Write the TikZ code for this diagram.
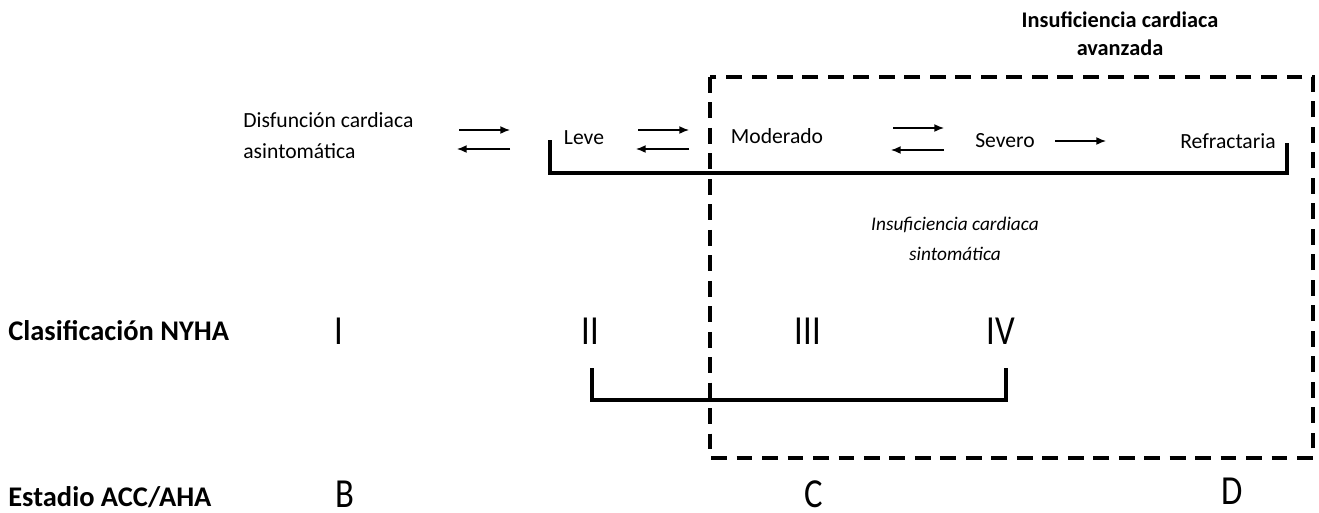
\documentclass[tikz,border=0pt]{standalone}
\usepackage{fontspec}
\setmainfont{Carlito}
\newfontfamily\narrowfont[FakeStretch=0.84]{Carlito}
\usetikzlibrary{arrows.meta,positioning}
\tikzset{
  txt/.style={font=\fontsize{12.3}{17.6}\selectfont,inner sep=0pt,align=left},
  itx/.style={font=\itshape\fontsize{11}{17}\selectfont,inner sep=0pt,align=center},
  hdr/.style={font=\bfseries\fontsize{12.7}{16}\selectfont,inner sep=0pt,align=center},
  rowlbl/.style={font=\bfseries\fontsize{16.2}{19}\selectfont,inner sep=0pt,anchor=west},
  cls/.style={font=\narrowfont\fontsize{23.5}{26}\selectfont,inner sep=0pt},
  arr/.style={-{Latex[length=5.5pt,width=4.5pt]},line width=0.8pt},
  brk/.style={line width=2.2pt},
  zone/.style={line width=2.3pt,dash pattern=on 9pt off 5.5pt},
}
\begin{document}
\begin{tikzpicture}[x=0.02cm,y=-0.02cm]
  \useasboundingbox (0,0) rectangle (1319,512);
  % upper row
  \node[txt, anchor=west] (dis) at (243,136) {Disfunción cardiaca\\asintomática};
  \node[txt] (leve) at (584,138) {Leve};
  \node[txt] (mod) at (777,136) {Moderado};
  \node[txt] (sev) at (1005,141) {Severo};
  \node[txt] (ref) at (1228,141) {Refractaria};
  \node[hdr] (adv) at (1120,34) {Insuficiencia cardiaca\\avanzada};
  \node[itx] (sint) at (955,239) {Insuficiencia cardiaca\\sintomática};

  \coordinate (a1) at (459,130); \coordinate (b1) at (510,130);
  \coordinate (c1) at (510,149); \coordinate (d1) at (457,149);
  \coordinate (a2) at (638,130); \coordinate (b2) at (689,130);
  \coordinate (c2) at (689,149); \coordinate (d2) at (636,149);
  \coordinate (a3) at (893,128); \coordinate (b3) at (944,128);
  \coordinate (c3) at (944,150); \coordinate (d3) at (891,150);
  \coordinate (a4) at (1055,141); \coordinate (b4) at (1106,141);
  \draw[arr] (a1) -- (b1);
  \draw[arr] (c1) -- (d1);
  \draw[arr] (a2) -- (b2);
  \draw[arr] (c2) -- (d2);
  \draw[arr] (a3) -- (b3);
  \draw[arr] (c3) -- (d3);
  \draw[arr] (a4) -- (b4);

  % brackets
  \coordinate (s1) at (550,140); \coordinate (e1) at (1287,143);
  \draw[brk] (s1) -- (550,173) -- (1287,173) -- (e1);
  \coordinate (s2) at (592,368); \coordinate (e2) at (1006,368);
  \draw[brk] (s2) -- (592,400) -- (1006,400) -- (e2);

  % advanced zone
  \coordinate (z1) at (710,77); \coordinate (z2) at (1313,458);
  \draw[zone] (z1) rectangle (z2);

  % NYHA
  \node[rowlbl] (nyha) at (8,331) {Clasificación NYHA};
  \node[cls] (n1) at (339,331) {I};
  \node[cls] (n2) at (590,331) {II};
  \node[cls] (n3) at (808,331) {III};
  \node[cls] (n4) at (1001,331) {IV};

  % ACC/AHA
  \node[rowlbl] (acc) at (8,497) {Estadio ACC/AHA};
  \node[cls] (sb) at (345,494) {B};
  \node[cls] (sc) at (814,494) {C};
  \node[cls] (sd) at (1232,491) {D};
\end{tikzpicture}
\end{document}
